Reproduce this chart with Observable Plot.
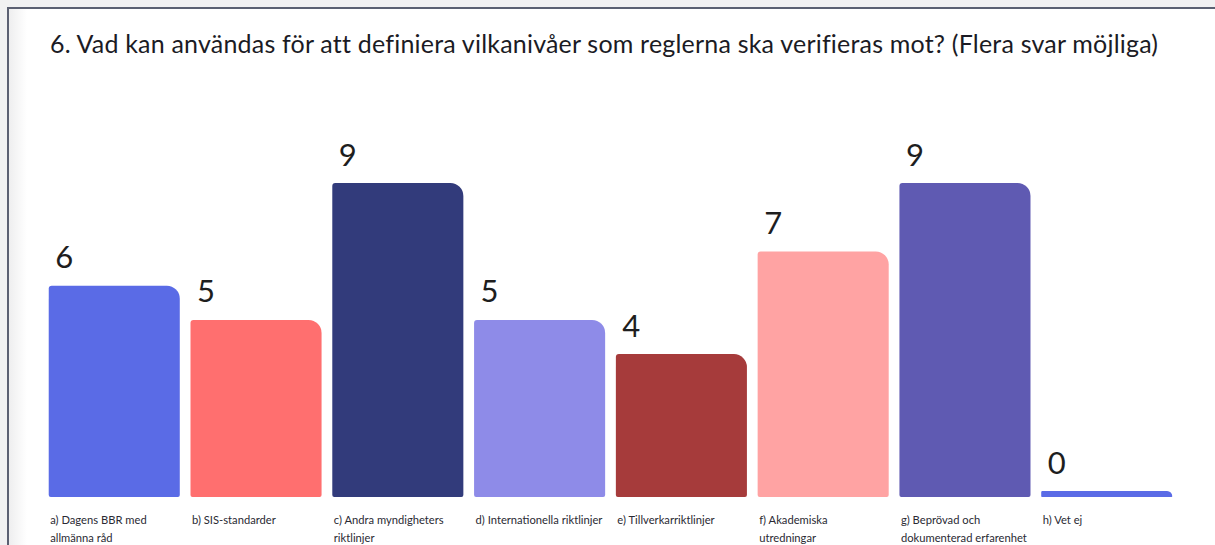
<!DOCTYPE html>
<html>
<head>
<meta charset="utf-8">
<script src="https://cdn.jsdelivr.net/npm/d3@7"></script>
<script src="https://cdn.jsdelivr.net/npm/@observablehq/plot@0.6"></script>
<style>
  html, body { margin: 0; padding: 0; background: #f1f1f2; width: 1215px; height: 545px; overflow: hidden; }
  #frame {
    position: absolute; left: 7px; top: 7px; right: -10px; bottom: -10px;
    border-left: 2px solid #5b6072; border-top: 2px solid #5b6072;
    background: linear-gradient(to right, #eeeeef 0px, #ffffff 18px);
  }
  #title {
    position: absolute; left: 50px; top: 28px;
    font-family: Lato, "Open Sans", sans-serif; font-size: 25px; color: #1b1b24;
    white-space: nowrap; letter-spacing: 0.2px;
  }
  #chart { position: absolute; left: 0; top: 100px; }
</style>
</head>
<body>
<div id="frame"></div>
<div id="title">6. Vad kan användas för att definiera vilkanivåer som reglerna ska verifieras mot? (Flera svar möjliga)</div>
<div id="chart"></div>
<script>
const categories = [
  "a) Dagens BBR med\nallmänna råd",
  "b) SIS-standarder",
  "c) Andra myndigheters\nriktlinjer",
  "d) Internationella riktlinjer",
  "e) Tillverkarriktlinjer",
  "f) Akademiska\nutredningar",
  "g) Beprövad och\ndokumenterad erfarenhet",
  "h) Vet ej"
];
const values = [6, 5, 9, 5, 4, 7, 9, 0];
const colors = ["#5a6be6", "#ff6f6f", "#323b7b", "#8e8be8", "#a63b3b", "#ffa3a3", "#5f5ab2", "#5a6be6"];

const data = categories.map((c, i) => ({cat: c, value: values[i], color: colors[i]}));

const width = 1215, height = 445;
const marginLeft = 38, marginRight = 32;
const padding = 0.0756;
const step = (width - marginLeft - marginRight) / (categories.length + padding);
const bw = step * (1 - padding);

const chart = Plot.plot({
  width, height,
  marginLeft, marginRight, marginTop: 83, marginBottom: 54,
  x: {domain: categories, padding, round: false, axis: null},
  y: {domain: [0, 9], axis: null},
  style: {background: "transparent", overflow: "visible"},
  marks: [
    Plot.barY(data, {
      x: "cat", y: "value", fill: "color",
      insetBottom: -6,
      rx1y1: 3, rx1y2: 2, rx2y1: 13, rx2y2: 2
    }),
    Plot.text(data, {
      x: "cat", y: "value", text: d => String(d.value),
      textAnchor: "start", lineAnchor: "bottom",
      dx: -bw / 2 + 6, dy: -18,
      fontSize: 31, fill: "#1e1e1e",
      fontFamily: "Lato, 'Open Sans', sans-serif"
    }),
    Plot.text(data, {
      x: "cat", y: () => 0, text: "cat",
      textAnchor: "start", lineAnchor: "top",
      dx: -bw / 2 + 1, dy: 20,
      lineHeight: 1.58,
      fontSize: 11.2, fill: "#2a2a33",
      fontFamily: "Lato, 'Open Sans', sans-serif"
    })
  ]
});
document.getElementById("chart").appendChild(chart);
</script>
</body>
</html>
